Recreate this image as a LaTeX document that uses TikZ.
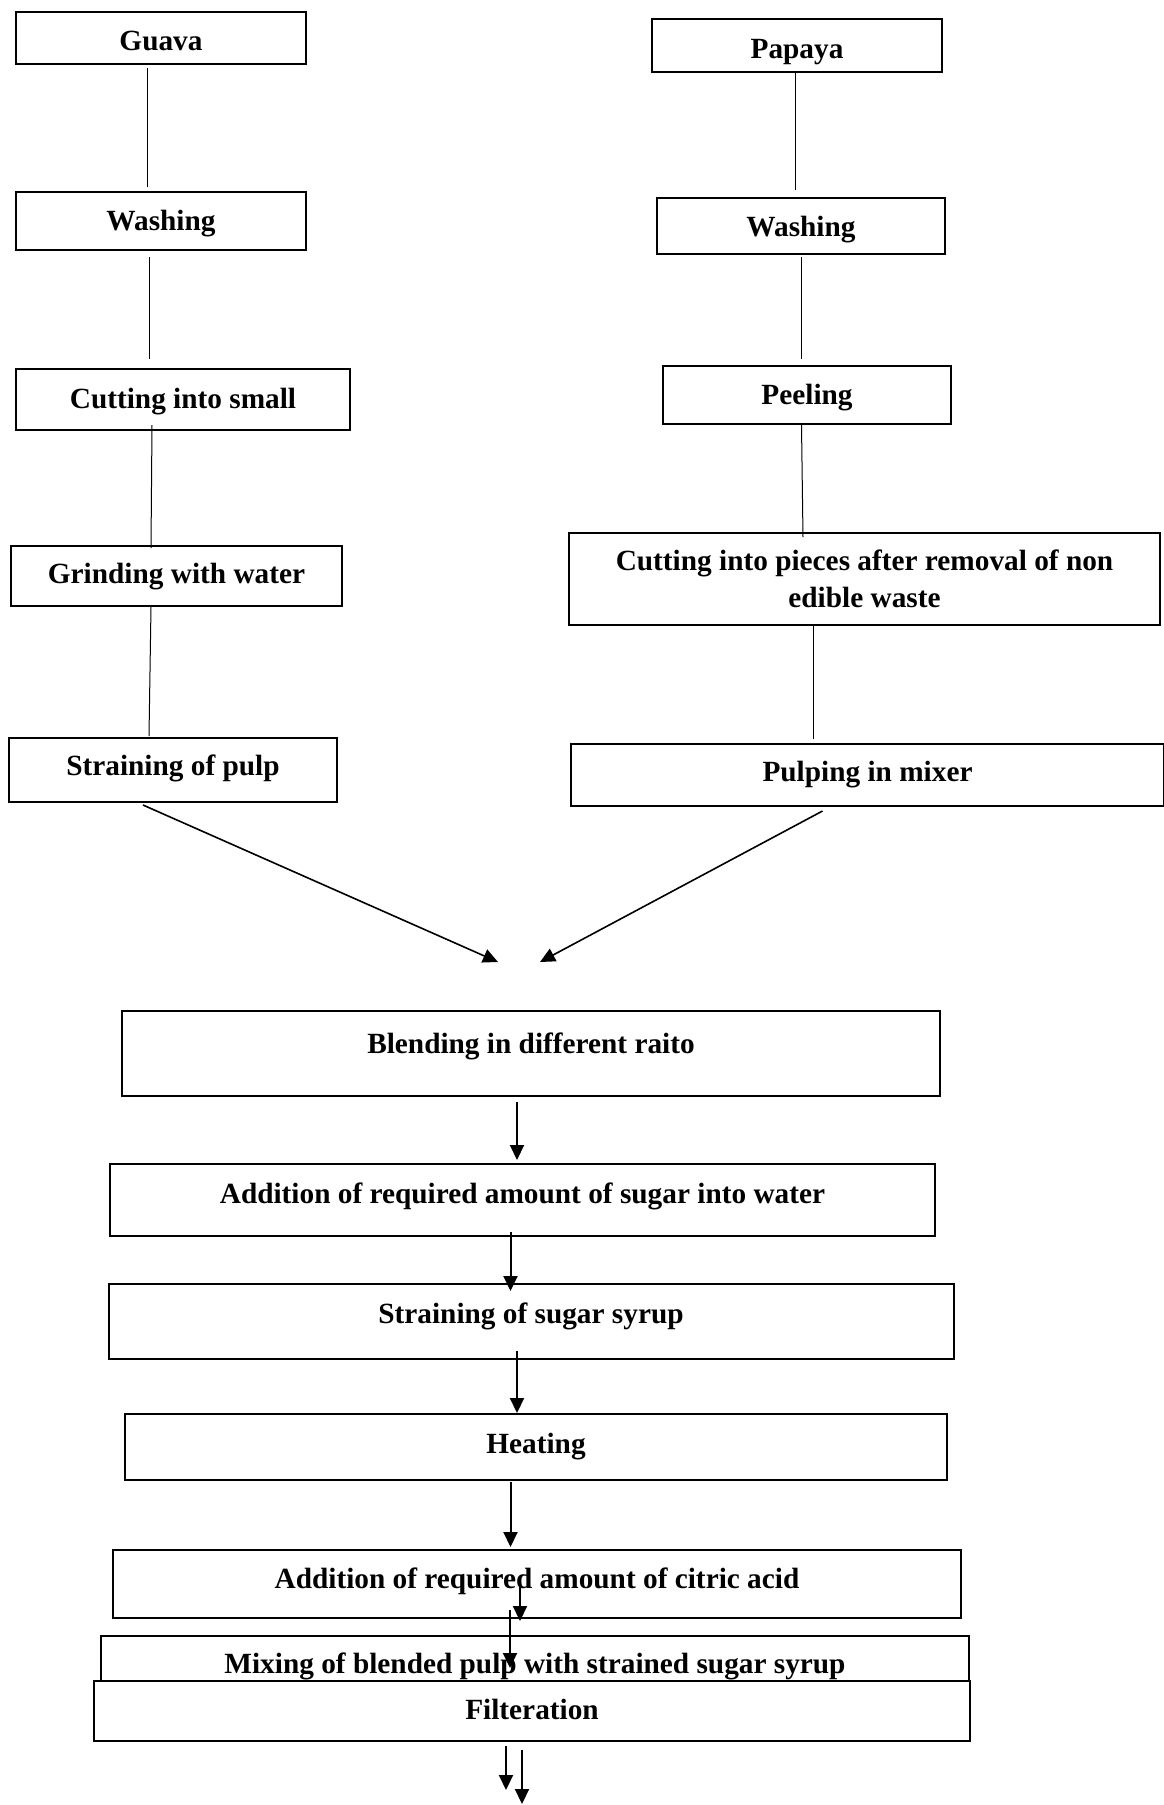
\documentclass[tikz,border=0pt]{standalone}
\usepackage{fontspec}
\setmainfont{Liberation Serif}
\usetikzlibrary{arrows.meta}
\usetikzlibrary{positioning}

\begin{document}
\begin{tikzpicture}[x=1pt,y=-1pt]

	 \tikzstyle{stepbox}=[draw,line width=2pt,fill=white,anchor=north,inner sep=0pt,align=center,font=\fontsize{29.3pt}{37pt}\selectfont\bfseries]
	 \tikzstyle{link}=[draw,line width=1pt,-]
	 \tikzstyle{flow}=[draw,line width=2pt,-{Triangle[length=15pt,width=14pt]}]
	 \tikzstyle{merge}=[draw,line width=1.6pt,-{Triangle[length=15pt,width=14pt]}]
	 \useasboundingbox (0,0) rectangle (1163,1805);
	 % guava
	 \node[stepbox,minimum width=290pt,text height=38pt,text depth=14pt] (g0) at (161,11) {Guava};
	 \node[stepbox,minimum width=290pt,text height=38pt,text depth=20pt] (g1) at (161,191) {Washing};
	 \node[stepbox,minimum width=334pt,text height=39pt,text depth=22pt] (g2) at (183,368) {Cutting into small};
	 \node[stepbox,minimum width=331pt,text height=37pt,text depth=23pt] (g3) at (176.5,545) {Grinding with water};
	 \node[stepbox,minimum width=328pt,text height=37pt,text depth=27pt] (g4) at (173,737) {Straining of pulp};
	 % papaya
	 \node[stepbox,minimum width=290pt,text height=39pt,text depth=14pt] (p0) at (797,18) {Papaya};
	 \node[stepbox,minimum width=288pt,text height=38pt,text depth=18pt] (p1) at (801,197) {Washing};
	 \node[stepbox,minimum width=288pt,text height=38pt,text depth=20pt] (p2) at (807,365) {Peeling};
	 \node[stepbox,minimum width=591pt,text height=74pt,text depth=18pt] (p3) at (864.5,532) {Cutting into pieces after removal of non\\edible waste};
	 \node[stepbox,minimum width=593pt,text height=37pt,text depth=25pt] (p4) at (867.5,743) {Pulping in mixer};
	 % after blending
	 \node[stepbox,minimum width=818pt,text height=42pt,text depth=43pt] (s0) at (531,1010) {Blending in different raito};
	 \node[stepbox,minimum width=825pt,text height=39pt,text depth=33pt] (s1) at (522.5,1163) {Addition of required amount of sugar into water};
	 \node[stepbox,minimum width=845pt,text height=39pt,text depth=36pt] (s2) at (531,1283) {Straining of sugar syrup};
	 \node[stepbox,minimum width=822pt,text height=39pt,text depth=27pt] (s3) at (536,1413) {Heating};
	 \node[stepbox,minimum width=848pt,text height=38pt,text depth=30pt] (s4) at (537,1549) {Addition of required amount of citric acid};
	 \node[stepbox,minimum width=868pt,text height=37pt,text depth=28pt] (s5) at (535,1635) {Mixing of blended pulp with strained sugar syrup};
	 \node[stepbox,minimum width=876pt,text height=38pt,text depth=22pt] (s6) at (532,1680) {Filteration};
	 \coordinate (mergeL) at (498,962);
	 \coordinate (mergeR) at (540,962);
	 \coordinate (outL) at (506,1790);
	 \coordinate (outR) at (522,1804);
	 \draw[link] ([xshift=-14pt,yshift=-3pt]g0.south) -- ([xshift=-14pt,yshift=4pt]g1.north);
	 \draw[link] ([xshift=-12pt,yshift=-6pt]g1.south) -- ([xshift=-34pt,yshift=9pt]g2.north);
	 \draw[link] ([xshift=-31pt,yshift=6pt]g2.south) -- ([xshift=-25.5pt,yshift=-3pt]g3.north);
	 \draw[link] ([xshift=-25.5pt]g3.south) -- ([xshift=-24pt,yshift=1pt]g4.north);
	 \draw[link] ([xshift=-2pt]p0.south) -- ([xshift=-6pt,yshift=7pt]p1.north);
	 \draw[link] ([yshift=-2pt]p1.south) -- ([xshift=-6pt,yshift=6pt]p2.north);
	 \draw[link] ([xshift=-5.5pt]p2.south) -- ([xshift=-61.5pt,yshift=-5pt]p3.north);
	 \draw[link] ([xshift=-51.5pt]p3.south) -- ([xshift=-54.5pt,yshift=4pt]p4.north);
	 \draw[merge] ([xshift=-30pt,yshift=-2pt]g4.south) -- (mergeL);
	 \draw[merge] ([xshift=-45pt,yshift=-4pt]p4.south) -- (mergeR);
	 \draw[flow] ([xshift=-14pt,yshift=-5pt]s0.south) -- ([xshift=-5.5pt,yshift=3pt]s1.north);
	 \draw[flow] ([xshift=-12pt,yshift=5pt]s1.south) -- ([xshift=-20.5pt,yshift=-8pt]s2.north);
	 \draw[flow] ([xshift=-14pt,yshift=9pt]s2.south) -- ([xshift=-19pt]s3.north);
	 \draw[flow] ([xshift=-25.5pt,yshift=-1pt]s3.south) -- ([xshift=-26.5pt,yshift=2pt]s4.north);
	 \draw[flow] ([xshift=-17pt,yshift=41pt]s4.south) -- ([xshift=-17pt,yshift=-2pt]s4.south);
	 \draw[flow] ([xshift=-27pt,yshift=9pt]s4.south) -- ([xshift=-25pt,yshift=-33pt]s5.north);
	 \draw[flow] ([xshift=-26pt,yshift=-4pt]s6.south) -- (outL);
	 \draw[flow] ([xshift=-10pt,yshift=-8pt]s6.south) -- (outR);

\end{tikzpicture}
\end{document}
